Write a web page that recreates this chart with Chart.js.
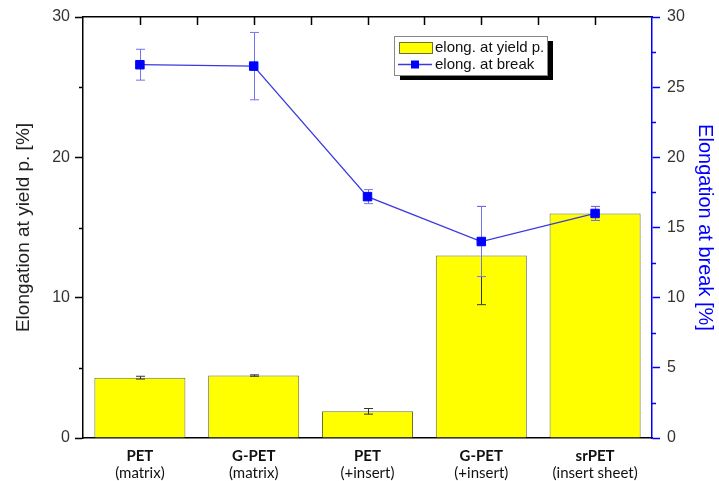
<!DOCTYPE html>
<html><head><meta charset="utf-8">
<script src="https://cdn.jsdelivr.net/npm/chart.js@4"></script>
<style>html,body{margin:0;padding:0;background:#fff;overflow:hidden}#wrap{width:719px;height:481px;position:relative}</style>
</head><body><div id="wrap"><canvas id="c" width="719" height="481"></canvas></div>
<script>
const categories = ['PET', 'G-PET', 'PET', 'G-PET', 'srPET'];
const subLabels = ['(matrix)', '(matrix)', '(+insert)', '(+insert)', '(insert sheet)'];
const yieldValues = [4.3, 4.45, 1.9, 13.0, 16.0];
const yieldErrors = [0.1, 0.05, 0.2, 3.5, 0.5];
const breakValues = [26.6, 26.5, 17.2, 14.0, 16.0];
const breakErrors = [1.1, 2.4, 0.5, 2.5, 0.5];
const leftTicks = [0, 10, 20, 30];
const rightTicks = [0, 5, 10, 15, 20, 25, 30];
const leftMinorTicks = [5, 15, 25];
const rightMinorTicks = [2.5, 7.5, 12.5, 17.5, 22.5, 27.5];
const seriesNames = ['elong. at yield p.', 'elong. at break'];
const axisTitles = ['Elongation at yield p. [%]', 'Elongation at break [%]'];

Chart.defaults.font.family = "'Liberation Sans', Arial, sans-serif";
Chart.defaults.devicePixelRatio = 1;

const BLUE = '#0000ff';
const LINE_BLUE = '#3a3ae0';
const ERR_BLUE = '#7373f0';

const decorPlugin = {
  id: 'decor',
  afterDatasetDraw(chart, args) {
    const ctx = chart.ctx;
    const x = chart.scales.x;
    if (chart.data.datasets[args.index].type === 'bar') {
      const y = chart.scales.y;
      ctx.save();
      ctx.strokeStyle = '#333';
      ctx.lineWidth = 1;
      yieldValues.forEach((v, i) => {
        const px = Math.round(x.getPixelForValue(i)) + 0.5;
        const top = y.getPixelForValue(v + yieldErrors[i]);
        const bot = y.getPixelForValue(v - yieldErrors[i]);
        ctx.beginPath();
        ctx.moveTo(px, top); ctx.lineTo(px, bot);
        ctx.moveTo(px - 4.5, top); ctx.lineTo(px + 4.5, top);
        ctx.moveTo(px - 4.5, bot); ctx.lineTo(px + 4.5, bot);
        ctx.stroke();
      });
      ctx.restore();
    }
  },
  beforeDatasetDraw(chart, args) {
    const ctx = chart.ctx;
    const x = chart.scales.x;
    if (chart.data.datasets[args.index].type === 'line') {
      const y = chart.scales.yR;
      ctx.save();
      ctx.strokeStyle = ERR_BLUE;
      ctx.lineWidth = 1;
      breakValues.forEach((v, i) => {
        const px = Math.round(x.getPixelForValue(i)) + 0.5;
        const top = y.getPixelForValue(v + breakErrors[i]);
        const bot = y.getPixelForValue(v - breakErrors[i]);
        ctx.beginPath();
        ctx.moveTo(px, top); ctx.lineTo(px, bot);
        ctx.moveTo(px - 4.5, top); ctx.lineTo(px + 4.5, top);
        ctx.moveTo(px - 4.5, bot); ctx.lineTo(px + 4.5, bot);
        ctx.stroke();
      });
      ctx.restore();
    }
  },
  afterDraw(chart) {
    const ctx = chart.ctx;
    const x = chart.scales.x;
    const y = chart.scales.y;
    const yR = chart.scales.yR;
    const area = chart.chartArea;
    ctx.save();
    // minor ticks
    ctx.lineWidth = 1.5;
    ctx.strokeStyle = '#000';
    leftMinorTicks.forEach(v => {
      const py = Math.round(y.getPixelForValue(v)) + 0.5;
      ctx.beginPath(); ctx.moveTo(area.left - 4, py); ctx.lineTo(area.left, py); ctx.stroke();
    });
    ctx.strokeStyle = BLUE;
    rightMinorTicks.forEach(v => {
      const py = Math.round(yR.getPixelForValue(v)) + 0.5;
      ctx.beginPath(); ctx.moveTo(area.right, py); ctx.lineTo(area.right + 4, py); ctx.stroke();
    });
    // top axis inward ticks
    ctx.strokeStyle = '#000';
    for (let i = 0; i < categories.length; i++) {
      const pts = [x.getPixelForValue(i)];
      if (i < categories.length - 1) pts.push((x.getPixelForValue(i) + x.getPixelForValue(i + 1)) / 2);
      pts.forEach(p => {
        const px = Math.round(p) + 0.5;
        ctx.beginPath(); ctx.moveTo(px, area.top); ctx.lineTo(px, area.top + 8); ctx.stroke();
      });
    }
    // category labels
    ctx.fillStyle = '#111';
    ctx.textAlign = 'center';
    ctx.textBaseline = 'middle';
    categories.forEach((c, i) => {
      const px = x.getPixelForValue(i);
      ctx.font = "bold 15px Lato, 'Open Sans', sans-serif";
      ctx.fillText(c, px, 456);
      ctx.font = "15px Lato, 'Open Sans', sans-serif";
      ctx.fillText(subLabels[i], px, 473);
    });
    // legend
    const lx = 394, ly = 36, lw = 153, lh = 39;
    ctx.fillStyle = '#000';
    ctx.fillRect(lx + 6, ly + 5, lw, lh);
    ctx.fillStyle = '#fff';
    ctx.fillRect(lx, ly, lw, lh);
    ctx.strokeStyle = '#888';
    ctx.lineWidth = 1;
    ctx.strokeRect(lx + 0.5, ly + 0.5, lw, lh);
    ctx.fillStyle = '#ffff00';
    ctx.fillRect(399, 42, 33, 11);
    ctx.strokeStyle = '#6e6e30';
    ctx.strokeRect(399.5, 42.5, 33, 11);
    ctx.strokeStyle = LINE_BLUE;
    ctx.lineWidth = 1.3;
    ctx.beginPath(); ctx.moveTo(398, 64.5); ctx.lineTo(432, 64.5); ctx.stroke();
    ctx.fillStyle = BLUE;
    ctx.fillRect(411, 60.5, 8, 8);
    ctx.fillStyle = '#111';
    ctx.textAlign = 'left';
    ctx.font = "15px 'Liberation Sans', Arial, sans-serif";
    ctx.fillText(seriesNames[0], 435, 48);
    ctx.fillText(seriesNames[1], 435, 65);
    ctx.restore();
  }
};

new Chart(document.getElementById('c'), {
  type: 'bar',
  data: {
    labels: categories.map((c, i) => c + ' ' + subLabels[i]),
    datasets: [
      {
        type: 'line',
        label: seriesNames[1],
        data: breakValues,
        yAxisID: 'yR',
        xAxisID: 'x',
        borderColor: LINE_BLUE,
        borderWidth: 1.3,
        pointStyle: 'rect',
        pointRadius: 6,
        pointBorderWidth: 1,
        pointBackgroundColor: BLUE,
        pointBorderColor: BLUE,
        tension: 0,
        order: 0
      },
      {
        type: 'bar',
        label: seriesNames[0],
        data: yieldValues,
        yAxisID: 'y',
        xAxisID: 'x',
        backgroundColor: '#ffff00',
        borderColor: '#6e6e30',
        borderWidth: 1,
        categoryPercentage: 1,
        barPercentage: 0.8,
        order: 1
      }
    ]
  },
  options: {
    responsive: false,
    animation: false,
    layout: { padding: 0 },
    plugins: { legend: { display: false }, tooltip: { enabled: false } },
    scales: {
      x: {
        type: 'category',
        position: 'bottom',
        offset: true,
        grid: { display: false },
        border: { display: true, color: '#000', width: 1.5 },
        ticks: { display: false },
        afterFit: s => { s.height = 43; }
      },
      x2: {
        type: 'category',
        position: 'top',
        offset: true,
        grid: { display: false },
        border: { display: true, color: '#000', width: 1.5 },
        ticks: { display: false },
        afterFit: s => { s.height = 17; }
      },
      y: {
        position: 'left',
        min: 0, max: 30,
        afterBuildTicks: s => { s.ticks = leftTicks.map(v => ({ value: v })); },
        ticks: { color: '#333', font: { size: 16 }, padding: 5 },
        grid: { drawOnChartArea: false, drawTicks: true, tickLength: 8, tickColor: '#000', tickWidth: 1.5 },
        border: { display: true, color: '#000', width: 1.5 },
        title: { display: true, text: axisTitles[0], color: '#222', font: { size: 19 }, padding: { top: 12, bottom: 0 } },
        afterFit: s => { s.width = 83; }
      },
      yR: {
        position: 'right',
        min: 0, max: 30,
        afterBuildTicks: s => { s.ticks = rightTicks.map(v => ({ value: v })); },
        ticks: { color: '#333', font: { size: 16 }, padding: 7 },
        grid: { drawOnChartArea: false, drawTicks: true, tickLength: 8, tickColor: BLUE, tickWidth: 1.5 },
        border: { display: true, color: BLUE, width: 1.5 },
        title: { display: true, text: axisTitles[1], color: BLUE, font: { size: 20 }, padding: { top: 2, bottom: 0 } },
        afterFit: s => { s.width = 67; }
      }
    }
  },
  plugins: [decorPlugin]
});
</script>
</body></html>
